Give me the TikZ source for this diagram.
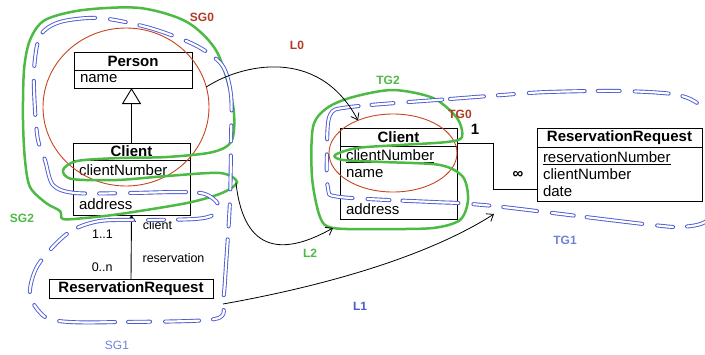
\documentclass[tikz,border=0pt]{standalone}
\usepackage{fontspec}
\setmainfont{Liberation Sans}
\usepackage{xcolor}
\usepackage{tikz}
\usetikzlibrary{positioning,shapes.geometric,arrows.meta}

\definecolor{sgred}{HTML}{C8441F}
\definecolor{sgredtext}{HTML}{B03A26}
\definecolor{sggreen}{HTML}{4DBA45}
\definecolor{sgblue}{HTML}{4B59D4}
\definecolor{sgbluetext}{HTML}{7080DA}

\begin{document}
\begin{tikzpicture}[x=1pt,y=-1pt,
	classhead/.style={draw, line width=1pt, inner sep=0pt, outer sep=0pt, font=\fontsize{15}{17}\selectfont\bfseries},
	classattrs/.style={draw, line width=1pt, inner xsep=6pt, inner ysep=0pt, outer sep=0pt, align=left, font=\fontsize{15}{17}\selectfont},
	redell/.style={ellipse, draw=sgred, line width=0.9pt, inner sep=0pt, outer sep=0pt},
	grouplabel/.style={font=\fontsize{12}{14}\selectfont\bfseries, inner sep=0pt},
	assoclabel/.style={font=\fontsize{12.5}{14}\selectfont, inner sep=0pt},
	greenloop/.style={draw=sggreen, line width=2.5pt},
	blueloop/.style={draw=sgblue, double=white, double distance=2.2pt, line width=0.9pt, line cap=round,
		dash pattern=on 34pt off 14pt on 16pt off 15pt on 56pt off 13pt on 22pt off 15pt},
	link/.style={line width=0.8pt, -{Straight Barb[length=6pt,width=9pt]}}]
	\useasboundingbox (0,0) rectangle (705,354);

	\node[classhead, minimum width=118pt, minimum height=18pt] (person) at (133,61) {Person};
	\node[classattrs, text width=106pt, minimum height=18pt, below=0pt of person] (personattrs) {name};
	\node[classhead, minimum width=117pt, minimum height=17pt] (srcclient) at (131.5,151.5) {Client};
	\node[classattrs, text width=105pt, minimum height=55pt, below=0pt of srcclient] (srcclientattrs) {clientNumber\\[17pt]address};
	\node[classhead, minimum width=164pt, minimum height=19pt] (srcreq) at (131,288.5) {ReservationRequest};

	\node[classhead, minimum width=117pt, minimum height=18pt] (tgtclient) at (398.5,137) {Client};
	\node[classattrs, text width=105pt, minimum height=73pt, below=0pt of tgtclient] (tgtclientattrs) {\underline{clientNumber}\\name\\[20pt]address};
	\node[classhead, minimum width=165pt, minimum height=19pt] (tgtreq) at (619.5,137.5) {ReservationRequest};
	\node[classattrs, text width=153pt, minimum height=54pt, below=0pt of tgtreq] (tgtreqattrs) {\underline{reservationNumber}\\clientNumber\\date};

	\draw[line width=0.9pt, -{Triangle[open, length=16pt, width=19pt]}] (srcclient.north) -- (srcclient.north |- personattrs.south);
	\draw[line width=0.9pt, -{Straight Barb[length=6pt,width=8pt]}] (srcreq.north) -- (srcclientattrs.south)
		node[assoclabel, pos=.84, right=11pt] (clientrole) {client}
		node[assoclabel, pos=.70, left=18pt] (clientmult) {1..1}
		node[assoclabel, pos=.33, right=11pt] (reqrole) {reservation}
		node[assoclabel, pos=.19, left=18pt] (reqmult) {0..n};
	\draw[line width=0.9pt] ([yshift=3pt]tgtclient.south east) -- ++(36,0) |- ([yshift=-15pt]tgtreqattrs.west);
	\node[font=\fontsize{15}{17}\selectfont\bfseries, inner sep=0pt] (onemult) at (475,129) {1};
	\node[font=\fontsize{15}{17}\selectfont\bfseries, inner sep=0pt] (manymult) at (518,175) {∞};

	\node[redell, minimum width=166pt, minimum height=158pt] (sg0) at (126,107) {};
	\node[redell, minimum width=128pt, minimum height=78pt] (tg0) at (393,153) {};

	\draw[greenloop] plot[smooth cycle] coordinates {(63,219) (60,211) (46,203) (30,187) (25,160) (23,120)
		(24,70) (30,40) (45,20) (83,10) (140,8) (187,22) (217,52) (233,105) (232,140) (213,152) (167,157)
		(120,158) (77,161) (63,170) (72,179) (117,180) (167,176) (220,173) (237,182) (222,193) (187,203)
		(120,214) (85,218)};
	\draw[greenloop] plot[smooth cycle] coordinates {(333,228) (320,217) (312,177) (313,127) (327,108)
		(353,97) (393,90) (433,98) (457,118) (462,137) (447,142) (400,145) (357,148) (335,155) (343,160)
		(383,162) (440,165) (463,177) (468,200) (460,220) (433,228) (383,229)};

	\draw[blueloop] plot[smooth cycle] coordinates {(45,160) (53,185) (75,193) (130,193) (180,192)
		(205,194) (218,204) (213,215) (195,219) (150,220) (100,221) (68,233) (38,265) (30,295) (45,317)
		(70,322) (120,322) (215,319) (223,300) (226,265) (230,200) (231,140) (231,95) (222,65) (195,45)
		(150,28) (100,18) (60,22) (40,36) (34,70) (35,110) (38,140)};
	\begin{scope}
		\clip (0,0) rectangle (705,354);
		\draw[blueloop] plot[smooth cycle] coordinates {(350,107) (450,99) (502,95) (548,92) (620,91)
			(678,95) (705,110) (728,150) (722,200) (705,222) (680,227) (653,225) (610,220) (503,207)
			(457,203) (433,202) (340,197) (328,188) (327,150) (330,115)};
	\end{scope}

	\coordinate (sg2tip) at (236,183);
	\coordinate (tg2corner) at (333,228);
	\coordinate (sg1side) at (223,304);
	\coordinate (tg1side) at (494,214);
	\draw[link] (sg0.14) .. controls (240,65) and (318,45) .. (tg0.137);
	\draw[link] (sg2tip) .. controls (244,255) and (285,255) .. (tg2corner);
	\draw[link] (sg1side) .. controls (330,285) and (430,255) .. (tg1side);

	\node[grouplabel, text=sgredtext] (sg0label) at (202,17) {SG0};
	\node[grouplabel, text=sgredtext] (tg0label) at (460,114) {TG0};
	\node[grouplabel, text=sgredtext] (l0label) at (297,45) {L0};
	\node[grouplabel, text=sggreen] (sg2label) at (22,218) {SG2};
	\node[grouplabel, text=sggreen] (tg2label) at (388,80) {TG2};
	\node[grouplabel, text=sggreen] (l2label) at (310,253) {L2};
	\node[grouplabel, font=\fontsize{12}{14}\selectfont, text=sgbluetext] (sg1label) at (117,345) {SG1};
	\node[grouplabel, text=sgbluetext] (tg1label) at (565,240) {TG1};
	\node[grouplabel, text=sgblue] (l1label) at (360,306) {L1};
\end{tikzpicture}
\end{document}
